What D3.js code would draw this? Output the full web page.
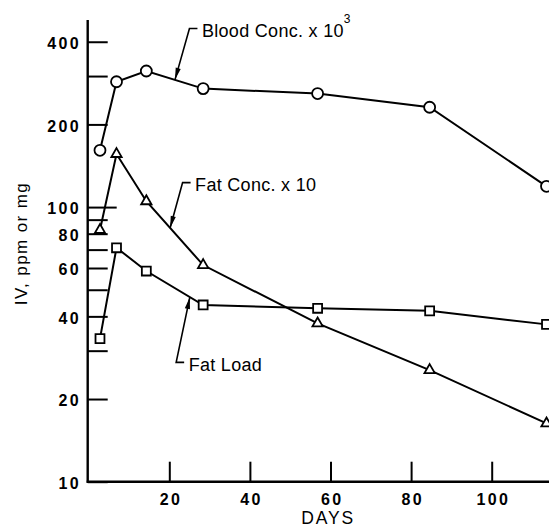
<!DOCTYPE html>
<html>
<head>
<meta charset="utf-8">
<script src="https://cdn.jsdelivr.net/npm/d3@7"></script>
<style>
  html, body { margin: 0; padding: 0; background: #fff; }
  svg { display: block; }
  text { font-family: "Liberation Sans", Arial, Helvetica, sans-serif; fill: #000; }
</style>
</head>
<body>
<svg id="chart" width="549" height="528"></svg>
<script>
// Sampling days
const days = [2.8, 6.9, 14.3, 28.4, 56.8, 84.6, 113.6];
// Blood concentration x 10^3 (circles)
const bloodConc = [161, 286, 313, 270, 259, 231, 119];
// Fat concentration x 10 (triangles)
const fatConc = [82.5, 156, 105, 61.5, 37.7, 25.5, 16.3];
// Fat load (squares)
const fatLoad = [33.2, 71.1, 58.5, 44.0, 42.8, 41.9, 37.4];

// Axis ticks
const xTicks = [20, 40, 60, 80, 100];
const yTicks = [10, 20, 30, 40, 50, 60, 70, 80, 90, 100, 200, 300, 400];
const yLabeled = [10, 20, 40, 60, 80, 100, 200, 400];

// Callout labels: series, day where the arrow meets the line, elbow position (day, value)
const calloutText = ["Blood Conc. x 10", "Fat Conc. x 10", "Fat Load"];
const calloutSup = ["3", "", ""];
const calloutTipDay = [21.4, 20.2, 25.1];
const calloutElbowDay = [25.0, 23.3, 21.7];
const calloutElbowVal = [447, 122.8, 27.2];

const svg = d3.select("#chart");

const x = d3.scaleLinear().domain([0, 120]).range([88.7, 572.3]);
const y = d3.scaleLog().domain([10, 480]).range([481.7, 20]);

const series = [
  { name: "blood", values: bloodConc, symbol: d3.symbolCircle, size: 95 },
  { name: "fatConc", values: fatConc, symbol: d3.symbolTriangle, size: 46 },
  { name: "fatLoad", values: fatLoad, symbol: d3.symbolSquare, size: 80 }
];

// Y axis: inward ticks, labels on the left
const yAxis = d3.axisLeft(y)
  .tickValues(yTicks)
  .tickSize(-20)
  .tickPadding(9)
  .tickFormat(d => yLabeled.includes(d) ? d : "");
const gy = svg.append("g").attr("transform", `translate(${x(0) - 1},0)`).call(yAxis);
gy.select(".domain").remove();
gy.selectAll(".tick line").attr("stroke", "#000").attr("stroke-width", 2)
  .attr("x2", d => d === 100 ? 29 : 20);
gy.selectAll(".tick text")
  .attr("font-size", 16).attr("font-weight", "bold").attr("letter-spacing", 2.4)
  .attr("dy", "0.42em").attr("dx", 2.4).attr("fill", "#000");

// X axis: inward ticks, labels below
const xAxis = d3.axisBottom(x)
  .tickValues(xTicks)
  .tickSize(-20)
  .tickPadding(12)
  .tickFormat(d => d);
const gx = svg.append("g").attr("transform", `translate(0,${y(10)})`).call(xAxis);
gx.select(".domain").remove();
gx.selectAll(".tick line").attr("stroke", "#000").attr("stroke-width", 2);
gx.selectAll(".tick text")
  .attr("font-size", 16).attr("font-weight", "bold").attr("letter-spacing", 2.4)
  .attr("dx", 1.2).attr("fill", "#000");

// Axis lines
svg.append("line")
  .attr("x1", x(0) - 1).attr("x2", x(0) - 1)
  .attr("y1", y(10) + 1).attr("y2", 20)
  .attr("stroke", "#000").attr("stroke-width", 2.4);
svg.append("line")
  .attr("x1", x(0) - 2).attr("x2", 549)
  .attr("y1", y(10)).attr("y2", y(10))
  .attr("stroke", "#000").attr("stroke-width", 2.4);

// Axis titles
svg.append("text")
  .attr("x", x(59.4)).attr("y", 524)
  .attr("text-anchor", "middle")
  .attr("font-size", 17.5).attr("letter-spacing", 1.8)
  .text("DAYS");
svg.append("text")
  .attr("transform", `translate(26.5,${243.5}) rotate(-90)`)
  .attr("text-anchor", "middle")
  .attr("font-size", 17).attr("letter-spacing", 1.4)
  .text("IV, ppm or mg");

// Series lines
const line = d3.line().x((d, i) => x(days[i])).y(d => y(d));
series.forEach(s => {
  svg.append("path")
    .datum(s.values)
    .attr("d", line)
    .attr("fill", "none")
    .attr("stroke", "#000")
    .attr("stroke-width", 2);
});

// Markers
series.forEach(s => {
  svg.append("g").selectAll("path")
    .data(s.values)
    .join("path")
    .attr("transform", (d, i) => `translate(${x(days[i])},${y(d)})`)
    .attr("d", d3.symbol().type(s.symbol).size(s.size))
    .attr("fill", "#fff")
    .attr("stroke", "#000")
    .attr("stroke-width", 1.8);
});

// Point on a series (in screen space) at a given day
function pointOn(values, day) {
  let i = 0;
  while (i < days.length - 2 && days[i + 1] < day) i++;
  const x0 = x(days[i]), x1 = x(days[i + 1]);
  const y0 = y(values[i]), y1 = y(values[i + 1]);
  const px = x(day);
  const t = (px - x0) / (x1 - x0);
  return [px, y0 + t * (y1 - y0)];
}

// Callouts with leader arrows
series.forEach((s, k) => {
  const tip = pointOn(s.values, calloutTipDay[k]);
  const ex = x(calloutElbowDay[k]), ey = y(calloutElbowVal[k]);
  const g = svg.append("g");
  g.append("path")
    .attr("d", `M${ex + 8},${ey} L${ex},${ey} L${tip[0]},${tip[1]}`)
    .attr("fill", "none").attr("stroke", "#000").attr("stroke-width", 1.6);
  // arrowhead
  const dx = tip[0] - ex, dy = tip[1] - ey;
  const len = Math.hypot(dx, dy);
  const ux = dx / len, uy = dy / len;
  const bx = tip[0] - ux * 12, by = tip[1] - uy * 12;
  const hw = 2.6;
  g.append("path")
    .attr("d", `M${tip[0]},${tip[1]} L${bx - uy * hw},${by + ux * hw} L${bx + uy * hw},${by - ux * hw} Z`)
    .attr("fill", "#000");
  const t = g.append("text")
    .attr("x", ex + 12.5).attr("y", ey + 8.5)
    .attr("font-size", 18).attr("letter-spacing", 0.3)
    .text(calloutText[k]);
  if (calloutSup[k]) {
    t.append("tspan").attr("font-size", 12).attr("dy", -14).text(calloutSup[k]);
  }
});
</script>
</body>
</html>
